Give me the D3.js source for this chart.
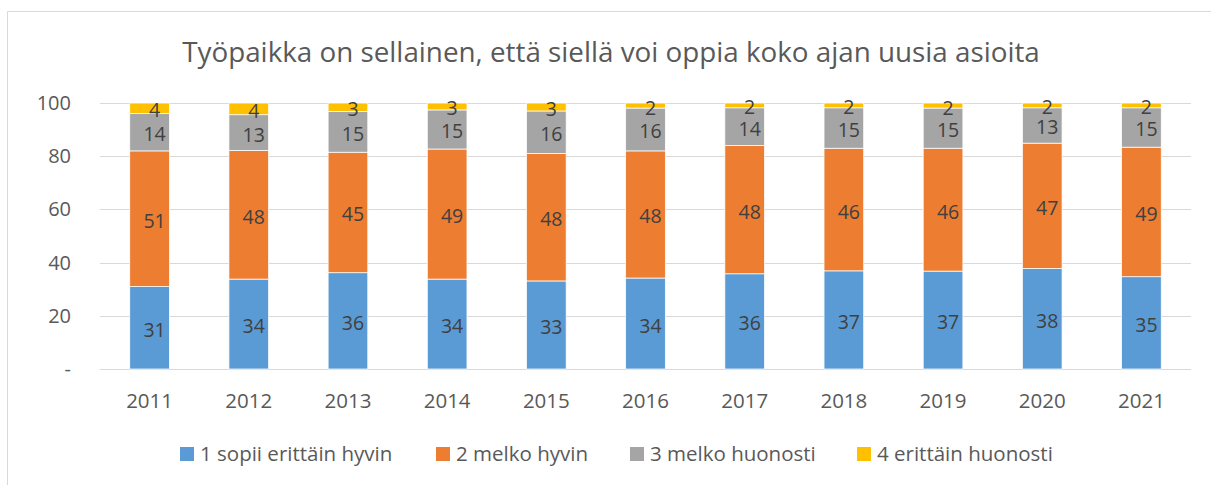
<!DOCTYPE html>
<html>
<head>
<meta charset="utf-8">
<script src="https://cdn.jsdelivr.net/npm/d3@7"></script>
<style>
  body { margin: 0; background: #fff; }
  svg text { font-family: "Open Sans", "Noto Sans", sans-serif; }
</style>
</head>
<body>
<div id="chart"></div>
<script>
var years = ["2011", "2012", "2013", "2014", "2015", "2016", "2017", "2018", "2019", "2020", "2021"];
var seriesNames = ["1 sopii erittäin hyvin", "2 melko hyvin", "3 melko huonosti", "4 erittäin huonosti"];
var seriesColors = ["#5b9bd5", "#ed7d31", "#a5a5a5", "#ffc000"];
var sopiiHyvin   = [31.0, 33.8, 36.2, 33.8, 33.1, 34.2, 35.8, 36.9, 36.8, 37.8, 34.7];
var melkoHyvin   = [51.0, 48.4, 45.3, 48.9, 47.9, 47.8, 48.2, 46.1, 46.2, 47.1, 48.7];
var melkoHuonosti = [14.0, 13.4, 15.3, 14.7, 16.0, 16.1, 14.2, 15.2, 15.1, 13.3, 14.8];
var erittainHuonosti = [4.0, 4.4, 3.2, 2.6, 3.0, 1.9, 1.8, 1.8, 1.9, 1.8, 1.8];
var yTicks = [0, 20, 40, 60, 80, 100];
var title = "Työpaikka on sellainen, että siellä voi oppia koko ajan uusia asioita";

var width = 1211, height = 485;
var margin = {top: 103, right: 20, bottom: 116, left: 100};
var plotW = 1191 - margin.left, plotH = 369 - margin.top;

var table = years.map(function (y, i) {
    return {year: y, s0: sopiiHyvin[i], s1: melkoHyvin[i], s2: melkoHuonosti[i], s3: erittainHuonosti[i]};
});
var keys = ["s0", "s1", "s2", "s3"];
var stacked = d3.stack().keys(keys)(table);

var svg = d3.select("#chart").append("svg")
    .attr("width", width)
    .attr("height", height);

// chart border (Excel frame, cut off on the right and bottom)
svg.append("path")
    .attr("d", "M7.5,485 L7.5,11.5 L1211,11.5")
    .attr("fill", "none")
    .attr("stroke", "#d9d9d9")
    .attr("stroke-width", 1);

var t = svg.append("text")
    .attr("x", 611)
    .attr("y", 62)
    .attr("text-anchor", "middle")
    .attr("fill", "#595959")
    .style("font-size", "24px")
    .text(title);
// squeeze to the width of the original title
var tw = t.node().getComputedTextLength();
t.style("font-size", (24 * 858 / tw) + "px");

var g = svg.append("g")
    .attr("transform", "translate(" + margin.left + "," + margin.top + ")");

var x = d3.scaleBand().domain(years).range([0, plotW]).paddingInner(0.6).paddingOuter(0.3);
var y = d3.scaleLinear().domain([0, 100]).range([plotH, 0]);

// gridlines
g.selectAll(".grid")
    .data(yTicks)
    .enter().append("line")
    .attr("x1", 0).attr("x2", plotW)
    .attr("y1", function (d) { return Math.round(y(d)) + 0.5; })
    .attr("y2", function (d) { return Math.round(y(d)) + 0.5; })
    .attr("stroke", "#d9d9d9")
    .attr("stroke-width", 1);

// y axis labels
var yAxis = d3.axisLeft(y).tickValues(yTicks).tickSize(0).tickPadding(29)
    .tickFormat(function (d) { return d === 0 ? "-" : d; });
g.append("g").call(yAxis)
    .call(function (s) { s.select(".domain").remove(); })
    .selectAll("text")
    .attr("fill", "#595959")
    .style("font-size", "20px");

// x axis labels
var xAxis = d3.axisBottom(x).tickSize(0).tickPadding(24);
g.append("g")
    .attr("transform", "translate(0," + plotH + ")")
    .call(xAxis)
    .call(function (s) { s.select(".domain").remove(); })
    .selectAll("text")
    .attr("fill", "#595959")
    .style("font-size", "20.5px");

// bars
var layers = g.selectAll(".layer")
    .data(stacked)
    .enter().append("g")
    .attr("fill", function (d, i) { return seriesColors[i]; });

layers.selectAll("rect")
    .data(function (d) { return d; })
    .enter().append("rect")
    .attr("x", function (d) { return x(d.data.year); })
    .attr("y", function (d) { return y(d[1]); })
    .attr("width", x.bandwidth())
    .attr("height", function (d) { return y(d[0]) - y(d[1]); })
    .attr("stroke", "#fff")
    .attr("stroke-width", 0.75);

// data labels (Excel puts them a little right of and below the segment centre)
layers.selectAll("text")
    .data(function (d) { return d; })
    .enter().append("text")
    .attr("x", function (d) { return x(d.data.year) + x.bandwidth() / 2 + 5; })
    .attr("y", function (d) { return (y(d[0]) + y(d[1])) / 2 + 2; })
    .attr("dy", "0.36em")
    .attr("text-anchor", "middle")
    .attr("fill", "#404040")
    .style("font-size", "19.5px")
    .text(function (d) { return Math.round(d[1] - d[0]); });

// legend
var legendX = [180, 436, 630, 857];
var legend = svg.selectAll(".legend")
    .data(seriesNames)
    .enter().append("g")
    .attr("transform", function (d, i) { return "translate(" + legendX[i] + ",447)"; });
legend.append("rect")
    .attr("width", 14).attr("height", 14)
    .attr("fill", function (d, i) { return seriesColors[i]; });
legend.append("text")
    .attr("x", 20).attr("y", 7)
    .attr("dy", "0.36em")
    .attr("fill", "#595959")
    .style("font-size", "20.5px")
    .text(function (d) { return d; });
</script>
</body>
</html>
